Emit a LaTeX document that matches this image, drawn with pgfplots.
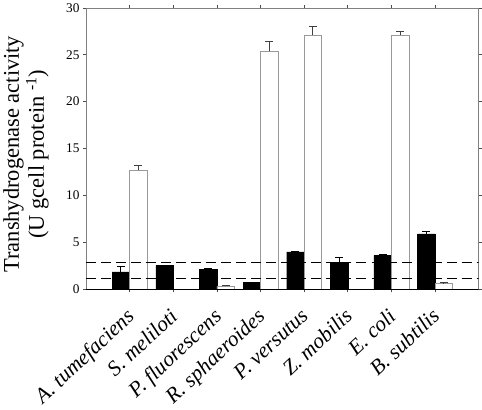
\documentclass[border=0pt]{standalone}
\usepackage{pgfplots}
\pgfplotsset{compat=1.18}
\usepackage{fontspec}
\setmainfont{Liberation Serif}
\begin{document}
\begin{tikzpicture}
\begin{axis}[
  scale only axis, width=392bp, height=281bp,
  xmin=-1, xmax=8, ymin=0, ymax=30,
  xtick={0,...,7},
  xticklabels={A. tumefaciens, S. meliloti, P. fluorescens, R. sphaeroides, P. versutus, Z. mobilis, E. coli, B. subtilis},
  xticklabel style={xshift=-4.5bp, yshift=-13bp, rotate=43, anchor=north east, font=\fontsize{21.5}{23}\selectfont\itshape, inner sep=1pt},
  ytick={0,5,...,30},
  yticklabel style={font=\fontsize{13.3}{15}\selectfont},
  /pgf/number format/assume math mode=true,
  tick align=outside, major tick length=3bp,
  axis line style={gray}, tick style={gray!60!black, line width=0.6pt},
  ylabel={Transhydrogenase activity\\(U gcell protein \textsuperscript{-1})},
  ylabel style={at={([xshift=-86bp]axis description cs:0,0.48)}, anchor=north, align=center, font=\fontsize{22.5}{25}\selectfont},
]
\addplot[ybar, bar width=17.4bp, bar shift=0pt, fill=black, draw=black,
  error bars/.cd, y dir=plus, y explicit,
  error bar style={black, line width=0.8pt},
  error mark options={rotate=90, mark size=4bp, black, line width=0.8pt}]
  coordinates {
  (-0.2,1.87) +- (0,0.53)
  (0.8,2.56) +- (0,0)
  (1.8,2.13) +- (0,0.14)
  (2.8,0.74) +- (0,0)
  (3.8,3.99) +- (0,0)
  (4.8,2.90) +- (0,0.50)
  (5.8,3.63) +- (0,0.08)
  (6.8,5.90) +- (0,0.32)
  };
\addplot[ybar, bar width=17.4bp, bar shift=0pt, fill=white, draw=gray!80, line width=0.7pt,
  error bars/.cd, y dir=plus, y explicit,
  error bar style={gray!50!black, line width=0.8pt},
  error mark options={rotate=90, mark size=4bp, gray!50!black, line width=0.8pt}]
  coordinates {
  (0.2,12.67) +- (0,0.53)
  (2.2,0.32) +- (0,0.10)
  (3.2,25.37) +- (0,1.03)
  (4.2,27.05) +- (0,0.98)
  (6.2,27.05) +- (0,0.42)
  (7.2,0.67) +- (0,0.05)
  };
\addplot[black, line width=0.8pt, dash pattern=on 10bp off 5bp] coordinates {(-1,2.85) (8,2.85)};
\addplot[black, line width=0.8pt, dash pattern=on 10bp off 5bp] coordinates {(-1,1.17) (8,1.17)};
\draw[black, line width=0.8pt] (rel axis cs:0,0) -- (rel axis cs:1,0);
\path (rel axis cs:1,1) ++(2bp,7bp) coordinate (bbTR);
\end{axis}
\end{tikzpicture}
\end{document}
